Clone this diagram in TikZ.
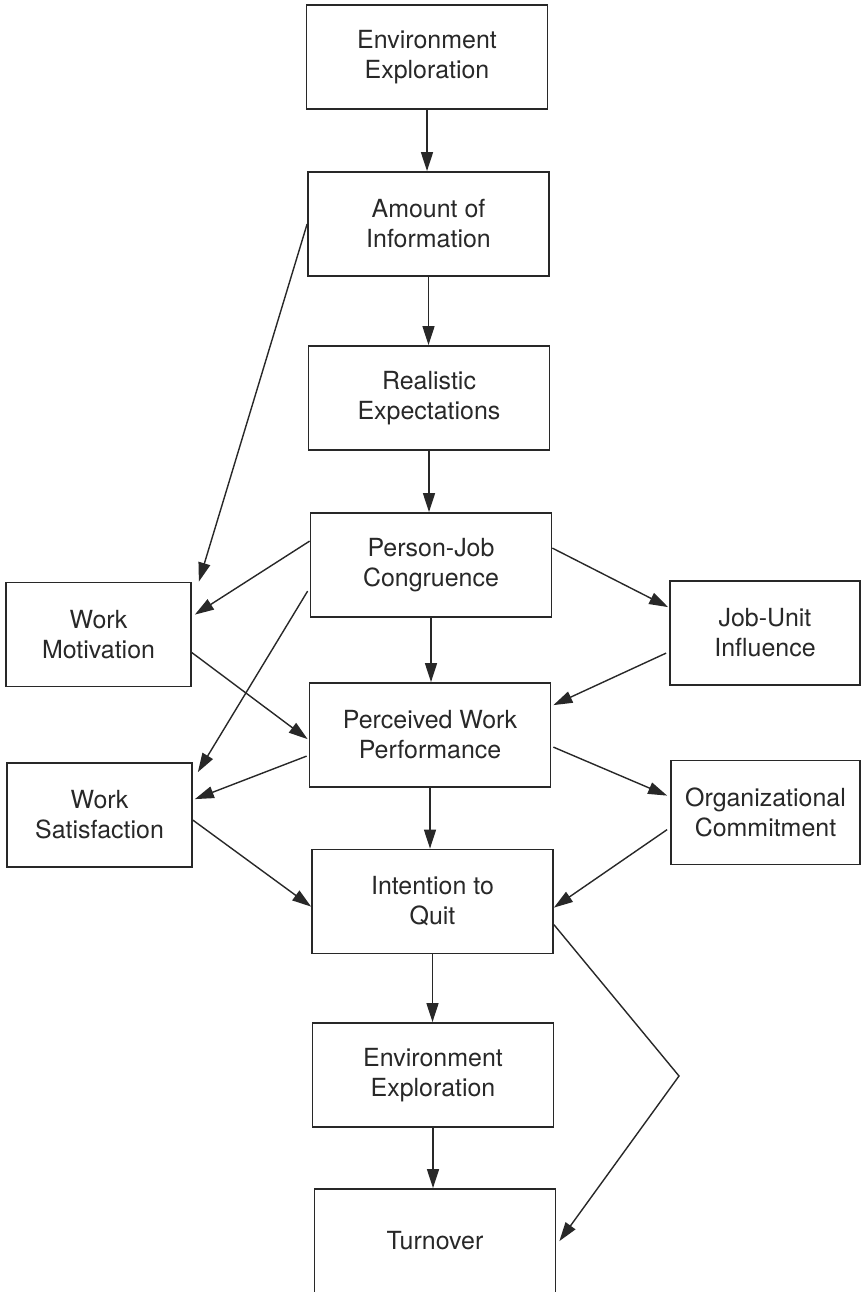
\documentclass[tikz,border=0pt]{standalone}
\definecolor{inkgray}{RGB}{40, 40, 40}
\usepackage{fontspec}
\setmainfont{TeX Gyre Heros}
\usepackage{tikz}
\usetikzlibrary{arrows.meta, positioning}

\begin{document}
\begin{tikzpicture}[
    mainbox/.style={draw=inkgray, line width=1pt, text=inkgray, minimum width=4.82cm, minimum height=2.08cm, align=center, font=\fontsize{14.2}{17}\selectfont},
    sidebox/.style={mainbox, minimum width=3.7cm},
    link/.style={draw=inkgray, line width=0.8pt, -{Triangle[length=0.38cm, width=0.24cm]}}
  ]
  \useasboundingbox (0, 0) rectangle (17.22, 25.84);

  % Central chain
  \node[mainbox] (env1) at (8.54, 24.70) {Environment\\Exploration};
  \node[mainbox] (info) at (8.57, 21.36) {Amount of\\Information};
  \node[mainbox] (real) at (8.58, 17.88) {Realistic\\Expectations};
  \node[mainbox] (pjc) at (8.62, 14.54) {Person-Job\\Congruence};
  \node[mainbox] (perf) at (8.60, 11.14) {Perceived Work\\Performance};
  \node[mainbox] (quit) at (8.65, 7.81) {Intention to\\Quit};
  \node[mainbox] (env2) at (8.66, 4.34) {Environment\\Exploration};
  \node[mainbox] (turn) at (8.70, 1.02) {Turnover};

  % Side boxes
  \node[sidebox] (mot) at (1.97, 13.15) {Work\\Motivation};
  \node[sidebox] (sat) at (1.99, 9.54) {Work\\Satisfaction};
  \node[sidebox, minimum width=3.8cm] (jobu) at (15.30, 13.18) {Job-Unit\\Influence};
  \node[sidebox, minimum width=3.78cm] (org) at (15.31, 9.59) {Organizational\\Commitment};

  % Vertical arrows
  \draw[link] (env1.south) -- (env1.south |- info.north);
  \draw[link] (info.south) -- (info.south |- real.north);
  \draw[link] (real.south) -- (real.south |- pjc.north);
  \draw[link] (pjc.south) -- (pjc.south |- perf.north);
  \draw[link] (perf.south) -- (perf.south |- quit.north);
  \draw[link] (quit.south) -- (quit.south |- env2.north);
  \draw[link] (env2.south) -- (env2.south |- turn.north);

  % Diagonal arrows, left side
  \draw[link] (info.west) -- ([xshift=0.14cm]mot.north east);
  \draw[link] ([yshift=-0.58cm]pjc.north west) -- ([shift={(0.06,-0.66)}]mot.north east);
  \draw[link] ([shift={(-0.04,-1.58)}]pjc.north west) -- ([shift={(0.1,-0.2)}]sat.north east);
  \draw[link] ([yshift=-1.42cm]mot.north east) -- ([shift={(-0.02,-1.14)}]perf.north west);
  \draw[link] ([shift={(-0.04,-1.48)}]perf.north west) -- ([shift={(0.04,-0.74)}]sat.north east);
  \draw[link] ([yshift=-1.16cm]sat.north east) -- ([yshift=-1.16cm]quit.north west);

  % Diagonal arrows, right side
  \draw[link] ([yshift=-0.72cm]pjc.north east) -- ([shift={(-0.02,-0.54)}]jobu.north west);
  \draw[link] ([shift={(-0.06,-1.46)}]jobu.north west) -- ([shift={(0.04,-0.46)}]perf.north east);
  \draw[link] ([shift={(0.04,-1.3)}]perf.north east) -- ([shift={(-0.06,-0.72)}]org.north west);
  \draw[link] ([shift={(-0.06,-1.4)}]org.north west) -- ([yshift=-1.18cm]quit.north east);

  % Bypass to turnover
  \coordinate (bend) at (13.58, 4.32);
  \draw[link] ([yshift=-1.52cm]quit.north east) -- (bend) -- ([shift={(0.06,-1.06)}]turn.north east);
\end{tikzpicture}
\end{document}
